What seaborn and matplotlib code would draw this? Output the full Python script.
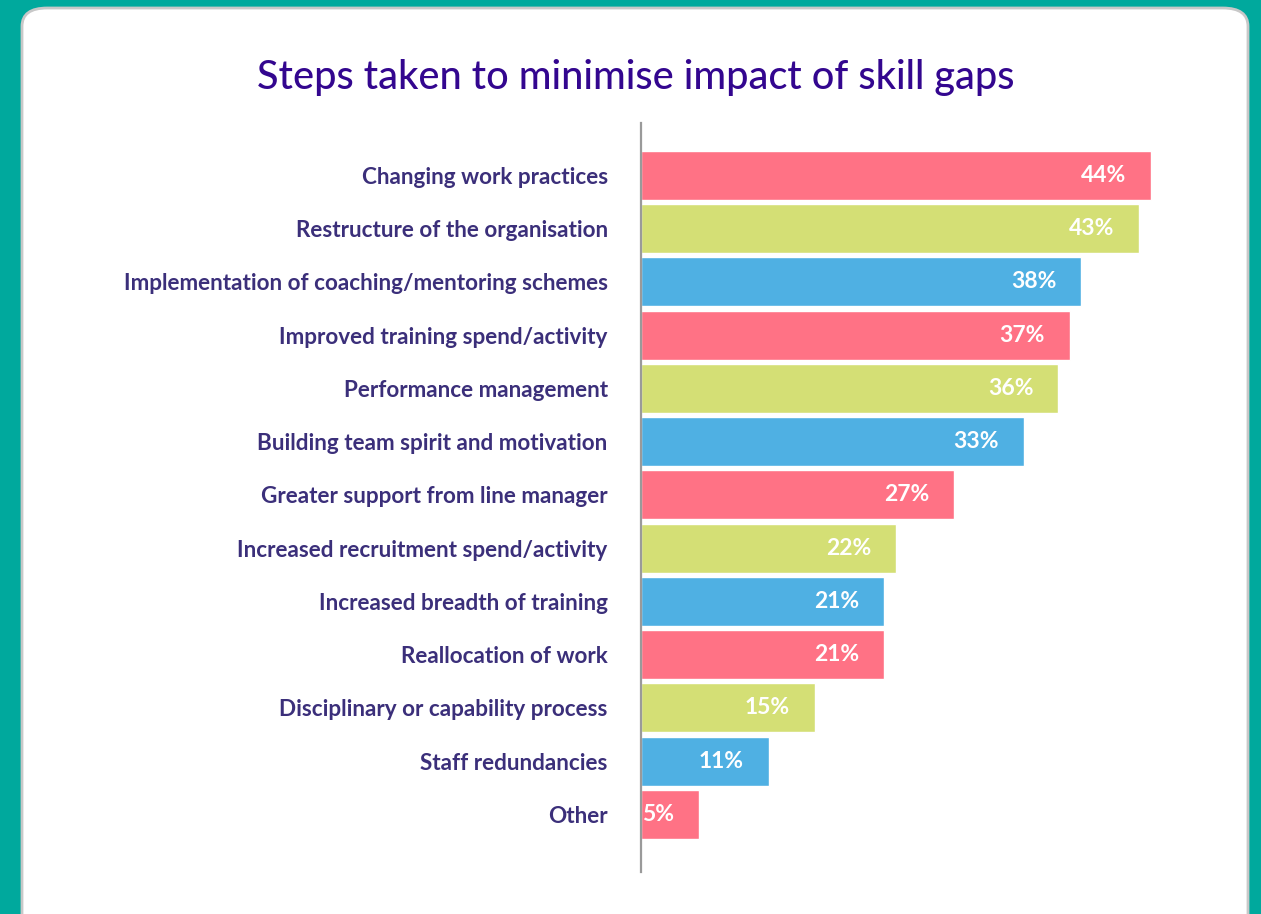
import matplotlib
matplotlib.use("Agg")
import matplotlib.pyplot as plt
from matplotlib.patches import FancyBboxPatch
import seaborn as sns
import pandas as pd

sns.set_theme(style="white")
plt.rcParams['font.family'] = ['Lato', 'DejaVu Sans']

steps = [
    "Changing work practices",
    "Restructure of the organisation",
    "Implementation of coaching/mentoring schemes",
    "Improved training spend/activity",
    "Performance management",
    "Building team spirit and motivation",
    "Greater support from line manager",
    "Increased recruitment spend/activity",
    "Increased breadth of training",
    "Reallocation of work",
    "Disciplinary or capability process",
    "Staff redundancies",
    "Other",
]
share = [44, 43, 38, 37, 36, 33, 27, 22, 21, 21, 15, 11, 5]

pink, green, blue = "#ff7285", "#d4df75", "#4fb0e3"
bar_colors = [pink, green, blue] * 4 + [pink]

df = pd.DataFrame({"step": steps, "share": share})

W, H = 1261, 914
fig = plt.figure(figsize=(W / 100, H / 100), dpi=100)
fig.patch.set_facecolor("#00a99d")

# white card behind the chart
card = FancyBboxPatch((22 / W, -0.05), (1248 - 22) / W, (914 - 8) / H + 0.05,
                      boxstyle="round,pad=0,rounding_size=0.02",
                      transform=fig.transFigure, facecolor="white",
                      edgecolor="#c8c8c8", linewidth=2.0, zorder=-10)
fig.patches.append(card)

ax = fig.add_axes([641 / W, 1 - 872 / H, (1200 - 641) / W, (872 - 123) / H])
ax.set_facecolor("none")
ax.set_zorder(5)

sns.barplot(data=df, x="share", y="step", hue="step", palette=bar_colors,
            orient="h", width=0.92, legend=False, saturation=1, ax=ax)

ax.set_xlim(0, 44 * (1200 - 641) / 510)
ax.set_ylim(13.08, -0.985)
ax.set_xlabel("")
ax.set_ylabel("")
ax.set_xticks([])
for s in ["top", "right", "bottom"]:
    ax.spines[s].set_visible(False)
ax.spines["left"].set_color("#9a9a9a")
ax.spines["left"].set_linewidth(1.6)
ax.tick_params(axis="y", length=0, pad=24)
for lbl in ax.get_yticklabels():
    lbl.set_fontsize(16.2)
    lbl.set_fontweight("bold")
    lbl.set_color("#3b2f7a")
    lbl.set_va("center_baseline")

for container in ax.containers:
    ax.bar_label(container, labels=[f"{v:.0f}%" for v in container.datavalues],
                 padding=-18, color="white", fontsize=16.5, fontweight="bold")
for txt in ax.texts:
    txt.set_ha("right")

fig.text(636 / W, 1 - 77 / H, "Steps taken to minimise impact of skill gaps",
         ha="center", va="center", fontsize=28.5, fontweight="medium",
         color="#33068f")

fig.savefig("out.png", dpi=100, facecolor=fig.get_facecolor())
